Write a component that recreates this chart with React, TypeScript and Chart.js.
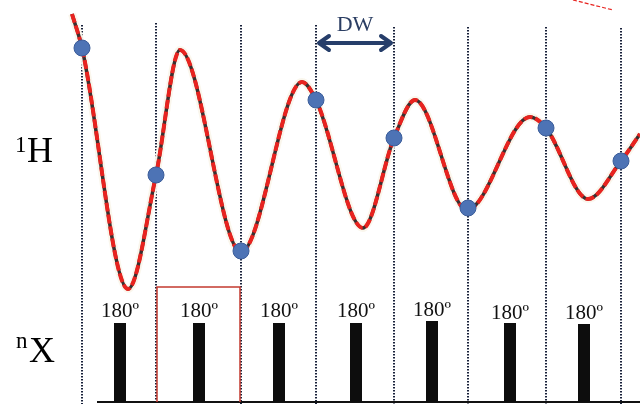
import React, { useEffect, useRef } from "react";
import { Chart, registerables } from "chart.js";

Chart.register(...registerables);

// Dwell-time grid (sampling instants) and where each dotted guide starts
const dwellTimes = [82, 156, 241, 316, 394, 468, 546, 621];
const dwellLineTops = [25, 23, 25, 25, 27, 27, 27, 28];
const plotBottom = 404;

// Sampled 1H signal at each dwell time (blue points)
const sampledTimes = [82, 156, 241, 316, 394, 468, 546, 621];
const sampledSignal = [48, 175, 251, 100, 138, 208, 128, 161];

// Continuous 1H signal (red dashed curve) knots
const curveTimes = [72, 82, 128, 156, 180, 241, 302, 316, 363, 394, 415, 467, 530, 546, 588, 621, 640];
const curveSignal = [14, 48, 289, 175, 50, 252, 82, 100, 228, 138, 100, 210, 117, 128, 199, 161, 134];

// Stray fragment of the curve at the top right
const fragmentTimes = [573, 613];
const fragmentSignal = [0, 10];

// nX channel 180-degree pulses
const pulseTimes = [120, 199, 279, 356, 432, 510, 584];
const pulseTops = [323, 323, 323, 323, 321, 323, 324];
const pulseLabels = ["180º", "180º", "180º", "180º", "180º", "180º", "180º"];
const pulseLabelBase = [317, 317, 317, 317, 316, 319, 319];
const baselineStart = 97;
const baselineEnd = 640;
const baselineLevel = 402;

// Highlighted window (one dwell)
const boxTimes = [157, 157, 240, 240];
const boxLevels = [402, 287, 287, 402];

// DW arrow span
const dwStart = 318;
const dwEnd = 392;
const dwLevel = 43;

const SERIF = '"Liberation Serif", "Times New Roman", "DejaVu Serif", serif';

function segments(xs: number[], y0: number[], y1: number[]) {
  const out: any[] = [];
  xs.forEach((x, i) => {
    out.push({ x, y: y0[i] });
    out.push({ x, y: y1[i] });
    out.push({ x, y: null });
  });
  return out;
}

const annotatePlugin = {
  id: "annotate",
  afterDatasetsDraw(chart: any) {
    const { ctx, scales } = chart;
    const X = (v: number) => scales.x.getPixelForValue(v);
    const Y = (v: number) => scales.y.getPixelForValue(v);
    ctx.save();
    // DW arrow
    ctx.strokeStyle = "#263e6a";
    ctx.lineWidth = 4;
    ctx.lineCap = "round";
    ctx.lineJoin = "round";
    ctx.beginPath();
    ctx.moveTo(X(dwStart + 2), Y(dwLevel));
    ctx.lineTo(X(dwEnd - 2), Y(dwLevel));
    ctx.stroke();
    ctx.beginPath();
    ctx.moveTo(X(dwStart + 11), Y(dwLevel - 7));
    ctx.lineTo(X(dwStart + 1), Y(dwLevel));
    ctx.lineTo(X(dwStart + 11), Y(dwLevel + 7));
    ctx.moveTo(X(dwEnd - 11), Y(dwLevel - 7));
    ctx.lineTo(X(dwEnd - 1), Y(dwLevel));
    ctx.lineTo(X(dwEnd - 11), Y(dwLevel + 7));
    ctx.stroke();
    ctx.fillStyle = "#2b3e63";
    ctx.font = `22px ${SERIF}`;
    ctx.textAlign = "center";
    ctx.textBaseline = "alphabetic";
    ctx.fillText("DW", X((dwStart + dwEnd) / 2), Y(31));

    // Pulse labels
    ctx.fillStyle = "#111";
    ctx.font = `21px ${SERIF}`;
    pulseTimes.forEach((t, i) => {
      ctx.fillText(pulseLabels[i], X(t), Y(pulseLabelBase[i]));
    });

    // Channel labels
    ctx.textAlign = "left";
    ctx.fillStyle = "#000";
    ctx.font = `36px ${SERIF}`;
    ctx.fillText("H", X(27), Y(162));
    ctx.fillText("X", X(29), Y(362));
    ctx.font = `23px ${SERIF}`;
    ctx.fillText("1", X(15), Y(152));
    ctx.fillText("n", X(16), Y(348));
    ctx.restore();
  },
};

export default function App() {
  const ref = useRef<HTMLCanvasElement>(null);
  useEffect(() => {
    if (!ref.current) return;
    const curve = curveTimes.map((x, i) => ({ x, y: curveSignal[i] }));
    const chart = new Chart(ref.current, {
      type: "scatter",
      data: {
        datasets: [
          {
            label: "samples",
            data: sampledTimes.map((x, i) => ({ x, y: sampledSignal[i] })),
            showLine: false,
            pointRadius: 8,
            pointBackgroundColor: "#4d73b5",
            pointBorderColor: "#3a5c99",
            pointBorderWidth: 1,
            order: 0,
          },
          {
            label: "curve-red",
            data: curve,
            showLine: true,
            pointRadius: 0,
            borderColor: "#e8231f",
            borderWidth: 4,
            borderDash: [9, 3],
            cubicInterpolationMode: "monotone",
            order: 1,
          },
          {
            label: "curve-dark",
            data: curve,
            showLine: true,
            pointRadius: 0,
            borderColor: "#3b2f2f",
            borderWidth: 3.5,
            cubicInterpolationMode: "monotone",
            order: 2,
          },
          {
            label: "curve-halo",
            data: curve,
            showLine: true,
            pointRadius: 0,
            borderColor: "rgba(250,245,235,0.95)",
            borderWidth: 8,
            cubicInterpolationMode: "monotone",
            order: 3,
          },
          {
            label: "fragment",
            data: fragmentTimes.map((x, i) => ({ x, y: fragmentSignal[i] })),
            showLine: true,
            pointRadius: 0,
            borderColor: "#e8231f",
            borderWidth: 1.2,
            borderDash: [4, 2],
            order: 4,
          },
          {
            label: "box",
            data: boxTimes.map((x, i) => ({ x, y: boxLevels[i] })),
            showLine: true,
            pointRadius: 0,
            borderColor: "#c43a2f",
            borderWidth: 1.5,
            order: 5,
          },
          {
            label: "pulses",
            data: segments(pulseTimes, pulseTimes.map(() => baselineLevel), pulseTops),
            showLine: true,
            spanGaps: false,
            pointRadius: 0,
            borderColor: "#0d0d0d",
            borderWidth: 12,
            borderCapStyle: "butt",
            order: 6,
          },
          {
            label: "baseline",
            data: [
              { x: baselineStart, y: baselineLevel },
              { x: baselineEnd, y: baselineLevel },
            ],
            showLine: true,
            pointRadius: 0,
            borderColor: "#111",
            borderWidth: 2,
            order: 7,
          },
          {
            label: "dwell",
            data: segments(dwellTimes, dwellLineTops, dwellTimes.map(() => plotBottom)),
            showLine: true,
            spanGaps: false,
            pointRadius: 0,
            borderColor: "#18213a",
            borderWidth: 2,
            borderDash: [1.5, 1.5],
            order: 8,
          },
        ] as any,
      },
      options: {
        animation: false,
        responsive: false,
        maintainAspectRatio: false,
        layout: { padding: 0, autoPadding: false } as any,
        clip: false as any,
        plugins: { legend: { display: false }, tooltip: { enabled: false } },
        scales: {
          x: { type: "linear", min: 0, max: 640, display: false },
          y: { type: "linear", min: 0, max: 404, reverse: true, display: false },
        },
      },
      plugins: [annotatePlugin],
    });
    return () => chart.destroy();
  }, []);
  return (
    <div style={{ position: "absolute", left: 0, top: 0, width: 640, height: 404, background: "#fff" }}>
      <canvas ref={ref} width={640} height={404} style={{ display: "block" }} />
    </div>
  );
}
